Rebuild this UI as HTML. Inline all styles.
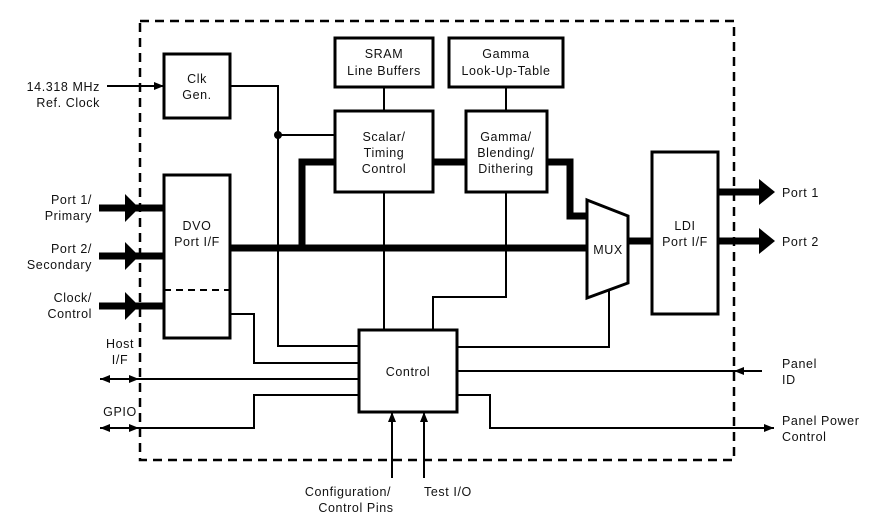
<!DOCTYPE html>
<html><head><style>
body{margin:0;background:#fff;}
svg{display:block;}
text{font-family:"Liberation Sans",sans-serif;font-size:12.5px;fill:#111;letter-spacing:0.6px;}
</style></head><body>
<svg width="890" height="519" viewBox="0 0 890 519" xmlns="http://www.w3.org/2000/svg">
<defs>
<marker id="a" markerWidth="10" markerHeight="8" refX="10" refY="4" orient="auto" markerUnits="userSpaceOnUse"><path d="M0,0 L10,4 L0,8 Z" fill="#000"/></marker>
<marker id="as" markerWidth="10" markerHeight="8" refX="0" refY="4" orient="auto" markerUnits="userSpaceOnUse"><path d="M10,0 L0,4 L10,8 Z" fill="#000"/></marker>
</defs>
<rect x="140" y="21" width="594" height="439" fill="none" stroke="#000" stroke-width="2.5" stroke-dasharray="9,6"/>
<g fill="none" stroke="#000" stroke-width="2">
<polyline points="230,86 278,86 278,346 360,346"/>
<line x1="278" y1="135" x2="335" y2="135"/>
<line x1="384" y1="87" x2="384" y2="111"/>
<line x1="506" y1="87" x2="506" y2="111"/>
<line x1="384" y1="192" x2="384" y2="330"/>
<polyline points="506,192 506,297 433,297 433,330"/>
<polyline points="609,291 609,347 457,347"/>
<polyline points="230,314 254,314 254,363 360,363"/>
<line x1="100" y1="379" x2="360" y2="379" marker-start="url(#as)"/>
<line x1="100" y1="379" x2="139" y2="379" marker-end="url(#a)"/>
<polyline points="100,428 254,428 254,395 360,395" marker-start="url(#as)"/>
<line x1="100" y1="428" x2="139" y2="428" marker-end="url(#a)"/>
<line x1="762" y1="371" x2="457" y2="371"/>
<line x1="762" y1="371" x2="734" y2="371" marker-end="url(#a)"/>
<polyline points="457,395 490,395 490,428 774,428" marker-end="url(#a)"/>
<line x1="107" y1="86" x2="164" y2="86" marker-end="url(#a)"/>
<line x1="392" y1="478" x2="392" y2="412" marker-end="url(#a)"/>
<line x1="424" y1="478" x2="424" y2="412" marker-end="url(#a)"/>
</g>
<circle cx="278" cy="135" r="4" fill="#000"/>
<g fill="none" stroke="#000" stroke-width="7">
<line x1="230" y1="248" x2="588" y2="248"/>
<polyline points="335,162 302,162 302,248"/>
<line x1="433" y1="162" x2="466" y2="162"/>
<polyline points="547,162 570,162 570,216 588,216"/>
<line x1="628" y1="241" x2="652" y2="241"/>
<line x1="718" y1="192" x2="760" y2="192"/>
<line x1="718" y1="241" x2="760" y2="241"/>
<line x1="99" y1="208" x2="164" y2="208"/>
<line x1="99" y1="256" x2="164" y2="256"/>
<line x1="99" y1="306" x2="164" y2="306"/>
</g>
<g fill="#000">
<path d="M759,179 L775,192 L759,205 Z"/>
<path d="M759,228 L775,241 L759,254 Z"/>
<path d="M125,194 L139,208 L125,222 Z"/>
<path d="M125,242 L139,256 L125,270 Z"/>
<path d="M125,292 L139,306 L125,320 Z"/>
</g>
<g fill="#fff" stroke="#000" stroke-width="3">
<rect x="164" y="54" width="66" height="64"/>
<rect x="164" y="175" width="66" height="163"/>
<rect x="335" y="38" width="98" height="49"/>
<rect x="449" y="38" width="114" height="49"/>
<rect x="335" y="111" width="98" height="81"/>
<rect x="466" y="111" width="81" height="81"/>
<rect x="359" y="330" width="98" height="82"/>
<rect x="652" y="152" width="66" height="162"/>
<path d="M587,200 L628,216 L628,283 L587,298 Z"/>
</g>
<line x1="164" y1="290" x2="230" y2="290" stroke="#000" stroke-width="2" stroke-dasharray="7,5"/>
<g text-anchor="middle">
<text x="197" y="83">Clk</text><text x="197" y="99">Gen.</text>
<text x="197" y="230">DVO</text><text x="197" y="246">Port I/F</text>
<text x="384" y="58">SRAM</text><text x="384" y="75">Line Buffers</text>
<text x="506" y="58">Gamma</text><text x="506" y="75">Look-Up-Table</text>
<text x="384" y="141">Scalar/</text><text x="384" y="157">Timing</text><text x="384" y="173">Control</text>
<text x="506" y="141">Gamma/</text><text x="506" y="157">Blending/</text><text x="506" y="173">Dithering</text>
<text x="408" y="376">Control</text>
<text x="608" y="254" font-size="11.5">MUX</text>
<text x="685" y="230">LDI</text><text x="685" y="246">Port I/F</text>
<text x="348" y="496">Configuration/</text><text x="356" y="512">Control Pins</text>
<text x="120" y="348">Host</text><text x="120" y="364">I/F</text>
<text x="120" y="416">GPIO</text>
</g>
<g text-anchor="end">
<text x="100" y="91">14.318 MHz</text><text x="100" y="107">Ref. Clock</text>
<text x="92" y="204">Port 1/</text><text x="92" y="220">Primary</text>
<text x="92" y="253">Port 2/</text><text x="92" y="269">Secondary</text>
<text x="92" y="302">Clock/</text><text x="92" y="318">Control</text>
</g>
<text x="424" y="496">Test I/O</text>
<text x="782" y="197">Port 1</text>
<text x="782" y="246">Port 2</text>
<text x="782" y="368">Panel</text><text x="782" y="384">ID</text>
<text x="782" y="425">Panel Power</text><text x="782" y="441">Control</text>
</svg>
</body></html>
